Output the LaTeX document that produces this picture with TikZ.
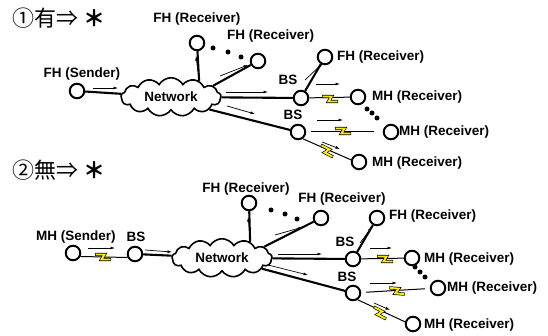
\documentclass[tikz,border=0pt]{standalone}
\usepackage{fontspec}
\setmainfont{Liberation Sans}
\newfontfamily\cjk{Noto Sans CJK JP}
\usetikzlibrary{shapes.symbols,arrows.meta}
\tikzset{
  circ/.style={circle,draw,line width=2pt,minimum size=14.5pt,inner sep=0pt,fill=white},
  lbl/.style={font=\bfseries\fontsize{13.5}{14}\selectfont,inner sep=1pt},
  ttl/.style={font=\cjk\fontsize{22}{23}\selectfont,anchor=west,inner sep=0pt},
  netc/.style={cloud,cloud puffs=13,cloud puff arc=120,aspect=2.6,draw,line width=1.6pt,fill=white,
    minimum width=100pt,minimum height=38pt,inner sep=0pt,font=\bfseries\fontsize{13.5}{14}\selectfont},
  conn/.style={line width=2.1pt},
  wl/.style={line width=1pt},
  sarr/.style={line width=0.7pt,-{Latex[length=4.5pt,width=3pt]}},
  dotn/.style={circle,fill=black,inner sep=0pt,minimum size=5pt},
  bolt/.pic={
    \draw[line width=3.2pt,black,line join=miter] (-8,-2.5)--(1.5,-2.5)--(-1.5,2.5)--(8,2.5);
    \draw[line width=1.9pt,yellow!95!orange,line join=miter] (-7.5,-2.5)--(1.5,-2.5)--(-1.5,2.5)--(7.5,2.5);
  }
}
\begin{document}
\begin{tikzpicture}[x=1pt,y=-1pt]
\useasboundingbox (0,0) rectangle (548,336);
% ===== top =====
\node[ttl] (t1) at (12,18) {①有⇒ {\bfseries ＊}};
\node[netc] (net1) at (171,97) {Network};
\node[circ] (fhs) at (77,91) {};
\node[lbl] (fhsl) at (82,74) {FH (Sender)};
\node[circ] (fhr1) at (197,43) {};
\node[lbl] (fhr1l) at (197,19) {FH (Receiver)};
\node[circ] (fhr2) at (258,61) {};
\node[lbl,anchor=west] (fhr2l) at (226,36) {FH (Receiver)};
\node[dotn] (d1) at (213,48) {};
\node[dotn] (d2) at (228,52) {};
\node[dotn] (d3) at (241,57) {};
\node[circ] (bs1) at (301,98) {};
\node[lbl] (bs1l) at (288,80) {BS};
\node[circ] (fhr3) at (325,57) {};
\node[lbl,anchor=west] (fhr3l) at (336,57) {FH (Receiver)};
\node[circ] (mh1) at (358,97) {};
\node[lbl,anchor=west] (mh1l) at (371,97) {MH (Receiver)};
\node[dotn] (d4) at (367,109) {};
\node[dotn] (d5) at (372,113) {};
\node[dotn] (d6) at (377,118) {};
\node[circ] (bs2) at (298,132) {};
\node[lbl] (bs2l) at (293,115) {BS};
\node[circ] (mh2) at (391,132) {};
\node[lbl,anchor=west] (mh2l) at (398,132) {MH (Receiver)};
\node[circ] (mh3) at (359,162) {};
\node[lbl,anchor=west] (mh3l) at (371,163) {MH (Receiver)};
% connectors
\draw[conn] (fhs) -- (net1);
\draw[conn] (net1.30) -- (fhr1);
\draw[conn] (net1.15) -- (fhr2);
\draw[conn] (net1) -- (bs1);
\draw[conn] (net1.-18) -- (bs2);
\draw[conn] (bs1) -- (fhr3);
\draw[wl] (bs1) -- (mh1);
\draw[wl,shorten <=5pt,shorten >=9pt] (bs2) -- (mh2);
\draw[wl] (bs2.-55) -- (mh3.165);
\pic at (330,99) {bolt};
\pic at (343,131) {bolt};
\pic[rotate=-27] at (327,151) {bolt};
% small arrows
\draw[sarr] (93,88) -- (118,88);
\draw[sarr] (198,72) -- (196,56);
\draw[sarr] (220,76) -- (248,65);
\draw[sarr] (226,92) -- (268,92);
\draw[sarr] (227,106) -- (255,114);
\draw[sarr] (305,80) -- (323,63);
\draw[sarr] (316,84) -- (340,84);
\draw[sarr] (317,120) -- (343,120);
\draw[sarr] (322,142) -- (340,149);
% ===== bottom =====
\node[ttl] (t2) at (12,170) {②無⇒ {\bfseries ＊}};
\node[netc] (net2) at (222,258) {Network};
\node[circ] (mhs) at (73,253) {};
\node[lbl] (mhsl) at (76,237) {MH (Sender)};
\node[circ] (bsl0) at (135,254) {};
\node[lbl] (bsl0l) at (136,237) {BS};
\node[circ] (fhr4) at (249,203) {};
\node[lbl] (fhr4l) at (246,189) {FH (Receiver)};
\node[dotn] (d7) at (271,210) {};
\node[dotn] (d8) at (285,214) {};
\node[dotn] (d9) at (297,219) {};
\node[circ] (fhr5) at (321,218) {};
\node[lbl] (fhr5l) at (342,199) {FH (Receiver)};
\node[circ] (bs3) at (353,259) {};
\node[lbl] (bs3l) at (345,242) {BS};
\node[circ] (fhr6) at (377,218) {};
\node[lbl,anchor=west] (fhr6l) at (388,216) {FH (Receiver)};
\node[circ] (mh4) at (412,258) {};
\node[lbl,anchor=west] (mh4l) at (423,259) {MH (Receiver)};
\node[dotn] (d10) at (415,267) {};
\node[dotn] (d11) at (420,272) {};
\node[dotn] (d12) at (425,277) {};
\node[circ] (bs4) at (353,293) {};
\node[lbl] (bs4l) at (347,277) {BS};
\node[circ] (mh5) at (438,288) {};
\node[lbl,anchor=west] (mh5l) at (446,288) {MH (Receiver)};
\node[circ] (mh6) at (413,324) {};
\node[lbl,anchor=west] (mh6l) at (423,325) {MH (Receiver)};
% connectors
\draw[wl] (mhs.-25) -- (bsl0.205);
\draw[conn] (bsl0) -- (net2);
\draw[conn] (net2.30) -- (fhr4);
\draw[conn] (net2.15) -- (fhr5);
\draw[conn] (net2) -- (bs3);
\draw[conn] (net2.-15) -- (bs4);
\draw[conn] (bs3) -- (fhr6);
\draw[wl] (bs3) -- (mh4);
\draw[wl,shorten <=5pt,shorten >=5pt] (bs4) -- (mh5);
\draw[wl] (bs4.-55) -- (mh6.165);
\pic at (103,257) {bolt};
\pic at (385,259) {bolt};
\pic[rotate=-5] at (397,291) {bolt};
\pic[rotate=-27] at (380,313) {bolt};
% small arrows
\draw[sarr] (88,248) -- (115,248);
\draw[sarr] (145,250) -- (172,252);
\draw[sarr] (250,235) -- (248,217);
\draw[sarr] (275,235) -- (303,227);
\draw[sarr] (278,254) -- (322,254);
\draw[sarr] (268,265) -- (308,275);
\draw[sarr] (360,243) -- (372,227);
\draw[sarr] (370,248) -- (392,248);
\draw[sarr] (370,283) -- (397,283);
\draw[sarr] (374,303) -- (390,310);
\end{tikzpicture}
\end{document}
